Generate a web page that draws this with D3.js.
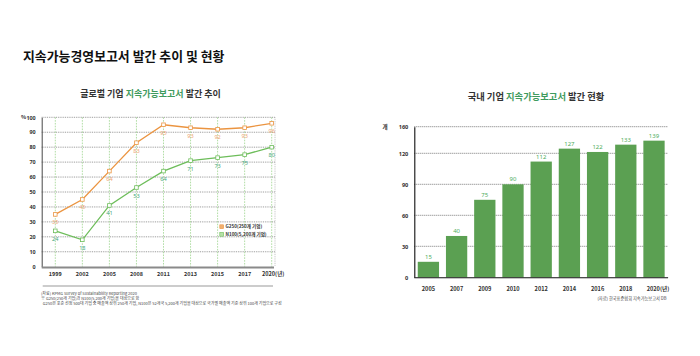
<!DOCTYPE html>
<html><head><meta charset="utf-8">
<script src="https://cdn.jsdelivr.net/npm/d3@7"></script>
<style>
html,body{margin:0;padding:0;background:#fff;}
svg{display:block;font-family:"Noto Sans CJK KR","Noto Sans",sans-serif;}
</style></head>
<body>
<svg id="c" width="700" height="356"></svg>
<script>
// ---- data ----
const globalYears = ['1999','2002','2005','2008','2011','2013','2015','2017','2020(년)'];
const g250 = [35,45,64,83,95,93,92,93,96];
const n100 = [24,18,41,53,64,71,73,75,80];
const leftTicks = [0,10,20,30,40,50,60,70,80,90,100];
const seriesNames = ['G250(250개 기업)','N100(5,200개 기업)'];

const domYears = ['2005','2007','2009','2010','2012','2014','2016','2018','2020(년)'];
const domReports = [15,40,75,90,112,127,122,133,139];
const rightTicks = [0,30,60,90,120,160];

const footnotes = [
  '(자료) KPMG Survey of Sustainability Reporting 2020',
  '※ G250(250개 기업)과 N100(5,200개 기업)을 대상으로 함',
  '  G250은 포춘 선정 500대 기업 중 매출액 상위 250개 기업, N100은 52개국 5,200개 기업을 대상으로 국가별 매출액 기준 상위 100개 기업으로 구성'
];
const rightSource = '(자료) 한국표준협회 지속가능보고서 DB';

// ---- styles ----
const ORANGE = '#eb9440', ORANGE_LBL = '#eea572';
const GREEN = '#6dbd5a', GREEN_LBL = '#45a77a';
const BAR = '#5ba052', BAR_LBL = '#4fae5c';
const TITLE_GREEN = '#3f9b5e';

const svg = d3.select('#c');

// main title
svg.append('text').attr('x',23).attr('y',60.5)
  .attr('font-size',12.9).attr('font-weight',700).attr('fill','#111')
  .text('지속가능경영보고서 발간 추이 및 현황');

function subTitle(cx, cy, fs, pre, mid, post){
  const t = svg.append('text').attr('x',cx).attr('y',cy).attr('text-anchor','middle')
    .attr('font-size',fs).attr('font-weight',700).attr('fill','#333');
  t.append('tspan').text(pre);
  t.append('tspan').attr('fill',TITLE_GREEN).text(mid);
  t.append('tspan').text(post);
}
subTitle(150.5, 96.8, 9.0, '글로벌 기업 ', '지속가능보고서', ' 발간 추이');
subTitle(536, 99.8, 9.3, '국내 기업 ', '지속가능보고서', ' 발간 현황');

// ================= LEFT CHART =================
const L = {x0:41.7, x1:274, y0:266.7, y1:117.3};
const xL = d3.scalePoint().domain(globalYears).range([55.3, 271.7]);
const yL = d3.scaleLinear().domain([0,100]).range([L.y0, L.y1]);
const gl = svg.append('g');

gl.selectAll('line.hg').data(leftTicks.filter(d=>d>0)).join('line')
  .attr('x1',L.x0).attr('x2',L.x1+1).attr('y1',d=>yL(d)).attr('y2',d=>yL(d))
  .attr('stroke','#666').attr('stroke-width',0.7).attr('stroke-dasharray','0.9,0.9');
gl.selectAll('line.vg').data(globalYears).join('line')
  .attr('x1',d=>xL(d)).attr('x2',d=>xL(d)).attr('y1',L.y1).attr('y2',L.y0)
  .attr('stroke','#8fcf7e').attr('stroke-width',0.7).attr('stroke-dasharray','1.6,1.2');
gl.append('line').attr('x1',L.x1+1).attr('x2',L.x1+1).attr('y1',L.y1).attr('y2',L.y0)
  .attr('stroke','#999').attr('stroke-width',0.6).attr('stroke-dasharray','0.9,0.9');

const axL = gl.append('g').attr('transform',`translate(${L.x0},0)`)
  .call(d3.axisLeft(yL).tickValues(leftTicks).tickSize(0).tickPadding(6));
axL.select('.domain').attr('stroke','#333').attr('stroke-width',0.9);
axL.selectAll('text').attr('font-size',5.4).attr('font-weight',700).attr('fill','#333')
  .attr('font-family','"Noto Sans","Noto Sans CJK KR",sans-serif');
gl.append('text').attr('x',21).attr('y',yL(100)+2).attr('font-size',5.4).attr('font-weight',700)
  .attr('fill','#333').text('%');
gl.append('line').attr('x1',L.x0).attr('x2',L.x1).attr('y1',L.y0+0.8).attr('y2',L.y0+0.8)
  .attr('stroke','#8a8a8a').attr('stroke-width',1.8);
gl.selectAll('text.xl').data(globalYears).join('text')
  .attr('x',d=>xL(d)).attr('y',275.8).attr('text-anchor','middle')
  .attr('font-size',5.5).attr('font-weight',700).attr('fill','#333').text(d=>d)
  .attr('dx',(d,i)=> i===globalYears.length-1 ? 1.5 : 0);
gl.append('line').attr('x1',42.7).attr('x2',273).attr('y1',286).attr('y2',286)
  .attr('stroke','#999').attr('stroke-width',1.2);

const lineGen = d3.line().x((d,i)=>xL(globalYears[i])).y(d=>yL(d));
function drawSeries(vals, color, lblColor){
  gl.append('path').datum(vals).attr('d',lineGen).attr('fill','none')
    .attr('stroke',color).attr('stroke-width',1.3);
  gl.selectAll(null).data(vals).join('rect')
    .attr('x',(d,i)=>xL(globalYears[i])-1.8).attr('y',d=>yL(d)-1.8)
    .attr('width',3.6).attr('height',3.6).attr('fill','#fff')
    .attr('stroke',color).attr('stroke-width',0.8);
  gl.selectAll(null).data(vals).join('text')
    .attr('x',(d,i)=>xL(globalYears[i])).attr('y',d=>yL(d)+10)
    .attr('text-anchor','middle').attr('font-size',5.6).attr('fill',lblColor)
    .attr('font-family','"Noto Sans",sans-serif').text(d=>d);
}
drawSeries(g250, ORANGE, ORANGE_LBL);
drawSeries(n100, GREEN, GREEN_LBL);

const lg = gl.append('g');
[[ORANGE,'#f2b070'],[GREEN,'#b7e0a8']].forEach((c,i)=>{
  const y = 226.7 + i*7.6;
  lg.append('rect').attr('x',219.8).attr('y',y-1.9).attr('width',3.8).attr('height',3.8)
    .attr('fill',c[1]).attr('stroke',c[0]).attr('stroke-width',0.6);
  lg.append('text').attr('x',225.5).attr('y',y+1.7).attr('font-size',4.6)
    .attr('font-weight',700).attr('fill','#333').text(seriesNames[i]);
});

gl.selectAll('text.fn').data(footnotes).join('text')
  .attr('x',41).attr('y',(d,i)=>[295,300,305][i]).attr('font-size',4)
  .attr('fill','#444').style('white-space','pre').text(d=>d);

// ================= RIGHT CHART =================
const R = {x0:414.3, x1:668.1, y0:277.3};
const xR = d3.scaleBand().domain(domYears).range([R.x0, R.x1]).paddingInner(0.245).paddingOuter(0.1225);
const yR = d3.scaleLinear().domain([0,120,160]).range([R.y0,153.3,126.7]);
const gr = svg.append('g');

gr.selectAll('line.hg').data(rightTicks.filter(d=>d>0)).join('line')
  .attr('x1',R.x0).attr('x2',R.x1).attr('y1',d=>yR(d)).attr('y2',d=>yR(d))
  .attr('stroke','#555').attr('stroke-width',0.8).attr('stroke-dasharray','1,1');

gr.selectAll('rect.bar').data(domReports).join('rect')
  .attr('x',(d,i)=>xR(domYears[i])).attr('width',xR.bandwidth())
  .attr('y',d=>yR(d)).attr('height',d=>yR(0)-yR(d)).attr('fill',BAR);
gr.selectAll('text.bl').data(domReports).join('text')
  .attr('x',(d,i)=>xR(domYears[i])+xR.bandwidth()/2).attr('y',d=>yR(d)-3)
  .attr('text-anchor','middle').attr('font-size',6).attr('fill',BAR_LBL)
  .attr('font-family','"Noto Sans",sans-serif').text(d=>d);

const axR = gr.append('g').attr('transform',`translate(${R.x0},0)`)
  .call(d3.axisLeft(yR).tickValues(rightTicks).tickSize(0).tickPadding(6).tickFormat(d3.format('d')));
axR.select('.domain').attr('stroke','#111').attr('stroke-width',1.1);
axR.selectAll('text').attr('font-size',5.6).attr('font-weight',700).attr('fill','#333')
  .attr('font-family','"Noto Sans","Noto Sans CJK KR",sans-serif');
gr.append('text').attr('x',382.5).attr('y',yR(160)+2).attr('font-size',5.6).attr('font-weight',700)
  .attr('fill','#333').text('개');
gr.append('line').attr('x1',R.x0).attr('x2',R.x1).attr('y1',R.y0+0.5).attr('y2',R.y0+0.5)
  .attr('stroke','#111').attr('stroke-width',1.1);

gr.selectAll('text.xr').data(domYears).join('text')
  .attr('x',d=>xR(d)+xR.bandwidth()/2).attr('y',290.5).attr('text-anchor','middle')
  .attr('font-size',5.6).attr('font-weight',700).attr('fill','#333').text(d=>d)
  .attr('dx',(d,i)=> i===domYears.length-1 ? 4 : 0);
gr.append('text').attr('x',666.5).attr('y',300.3).attr('text-anchor','end')
  .attr('font-size',4.2).attr('fill','#444').text(rightSource);
</script>
</body></html>
